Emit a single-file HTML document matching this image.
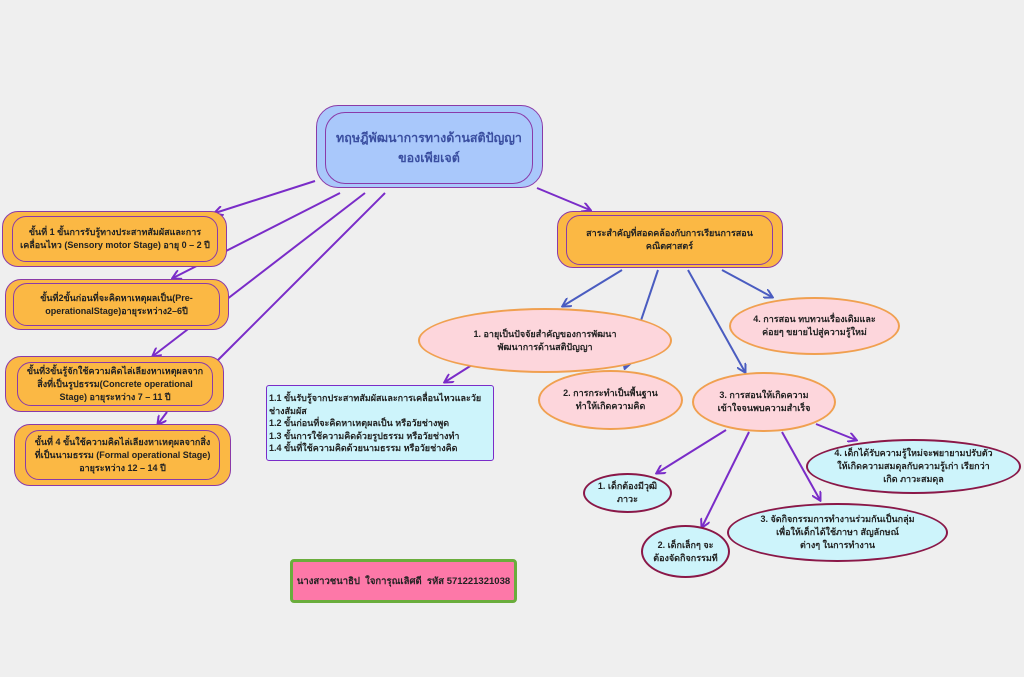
<!DOCTYPE html>
<html><head><meta charset="utf-8"><style>
body{margin:0;width:1024px;height:677px;background:#efefef;position:relative;overflow:hidden;font-family:"Liberation Sans","Noto Sans CJK SC",sans-serif;font-weight:bold}
.o{position:absolute;background:#fbb844;border:1.5px solid #8a3aa8;border-radius:16px;box-sizing:border-box}
.i{position:absolute;border:1.5px solid #8a3aa8;border-radius:14px;box-sizing:border-box;display:flex;align-items:center;justify-content:center;text-align:center;font-size:9px;line-height:13px;color:#222;padding:0 6px}
.e{position:absolute;border-radius:50%;box-sizing:border-box;display:flex;align-items:center;justify-content:center;text-align:center;font-size:9px;line-height:13px;color:#222}
.p{background:#fdd6dc;border:2px solid #f0a050}
.c{background:#cdf4fb;border:2px solid #8a1848}
svg{position:absolute;left:0;top:0}
</style></head><body>
<svg width="1024" height="677">
<defs>
<marker id="ap" markerWidth="10" markerHeight="10" refX="8" refY="5" orient="auto" markerUnits="userSpaceOnUse"><path d="M0,0 L9,5 L0,10" fill="none" stroke="#7a2cc8" stroke-width="2"/></marker>
<marker id="ab" markerWidth="10" markerHeight="10" refX="8" refY="5" orient="auto" markerUnits="userSpaceOnUse"><path d="M0,0 L9,5 L0,10" fill="none" stroke="#4a5cc0" stroke-width="2"/></marker>
</defs>
<g stroke="#7a2cc8" stroke-width="2" fill="none">
<line x1="315" y1="181" x2="215" y2="213" marker-end="url(#ap)"/>
<line x1="340" y1="193" x2="173" y2="278" marker-end="url(#ap)"/>
<line x1="365" y1="193" x2="153" y2="356" marker-end="url(#ap)"/>
<line x1="385" y1="193" x2="218" y2="360"/>
<line x1="167" y1="412" x2="158" y2="424" marker-end="url(#ap)"/>
<line x1="537" y1="188" x2="590" y2="210" marker-end="url(#ap)"/>
<line x1="475" y1="363" x2="445" y2="382" marker-end="url(#ap)"/>
<line x1="726" y1="430" x2="657" y2="473" marker-end="url(#ap)"/>
<line x1="749" y1="432" x2="702" y2="527" marker-end="url(#ap)"/>
<line x1="782" y1="432" x2="820" y2="500" marker-end="url(#ap)"/>
<line x1="816" y1="424" x2="856" y2="440" marker-end="url(#ap)"/>
</g>
<g stroke="#4a5cc0" stroke-width="2" fill="none">
<line x1="622" y1="270" x2="563" y2="306" marker-end="url(#ab)"/>
<line x1="658" y1="270" x2="625" y2="368" marker-end="url(#ab)"/>
<line x1="688" y1="270" x2="745" y2="372" marker-end="url(#ab)"/>
<line x1="722" y1="270" x2="772" y2="297" marker-end="url(#ab)"/>
</g>
</svg>

<div class="o" style="left:316px;top:105px;width:227px;height:83px;background:#a9c8fb;border-radius:22px"></div>
<div class="i" style="left:325px;top:112px;width:208px;height:72px;border-radius:20px;font-size:12.5px;line-height:20px;color:#3a4ea0;white-space:nowrap;padding:0">ทฤษฎีพัฒนาการทางด้านสติปัญญา<br>ของเพียเจต์</div>

<div class="o" style="left:2px;top:211px;width:225px;height:56px"></div>
<div class="i" style="left:12px;top:216px;width:206px;height:46px">ขั้นที่ 1 ขั้นการรับรู้ทางประสาทสัมผัสและการเคลื่อนไหว (Sensory motor Stage) อายุ 0 – 2 ปี</div>
<div class="o" style="left:5px;top:279px;width:224px;height:51px"></div>
<div class="i" style="left:13px;top:283px;width:207px;height:43px">ขั้นที่2ขั้นก่อนที่จะคิดหาเหตุผลเป็น(Pre-operationalStage)อายุระหว่าง2–6ปี</div>
<div class="o" style="left:5px;top:356px;width:219px;height:56px"></div>
<div class="i" style="left:17px;top:362px;width:196px;height:44px">ขั้นที่3ขั้นรู้จักใช้ความคิดไล่เลียงหาเหตุผลจากสิ่งที่เป็นรูปธรรม(Concrete operational Stage) อายุระหว่าง 7 – 11 ปี</div>
<div class="o" style="left:14px;top:424px;width:217px;height:62px"></div>
<div class="i" style="left:25px;top:430px;width:195px;height:50px">ขั้นที่ 4 ขั้นใช้ความคิดไล่เลียงหาเหตุผลจากสิ่งที่เป็นนามธรรม (Formal operational Stage) อายุระหว่าง 12 – 14 ปี</div>

<div class="o" style="left:557px;top:211px;width:226px;height:57px"></div>
<div class="i" style="left:566px;top:215px;width:207px;height:50px;font-size:9px">สาระสำคัญที่สอดคล้องกับการเรียนการสอนคณิตศาสตร์</div>

<div class="e p" style="left:418px;top:308px;width:254px;height:65px">1. อายุเป็นปัจจัยสำคัญของการพัฒนา<br>พัฒนาการด้านสติปัญญา</div>
<div class="e p" style="left:538px;top:370px;width:145px;height:60px">2. การกระทำเป็นพื้นฐาน<br>ทำให้เกิดความคิด</div>
<div class="e p" style="left:692px;top:372px;width:144px;height:60px">3. การสอนให้เกิดความ<br>เข้าใจจนพบความสำเร็จ</div>
<div class="e p" style="left:729px;top:297px;width:171px;height:58px">4. การสอน ทบทวนเรื่องเดิมและ<br>ค่อยๆ ขยายไปสู่ความรู้ใหม่</div>

<div style="position:absolute;left:266px;top:385px;width:228px;height:76px;box-sizing:border-box;background:#cdf4fb;border:1.5px solid #7a2cc8;border-radius:3px;font-size:9px;line-height:12.5px;color:#222;padding:6px 2px">1.1 ขั้นรับรู้จากประสาทสัมผัสและการเคลื่อนไหวและวัยช่างสัมผัส<br>1.2 ขั้นก่อนที่จะคิดหาเหตุผลเป็น หรือวัยช่างพูด<br>1.3 ขั้นการใช้ความคิดด้วยรูปธรรม หรือวัยช่างทำ<br>1.4 ขั้นที่ใช้ความคิดด้วยนามธรรม หรือวัยช่างคิด</div>

<div class="e c" style="left:583px;top:473px;width:89px;height:40px">1. เด็กต้องมีวุฒิ<br>ภาวะ</div>
<div class="e c" style="left:641px;top:525px;width:89px;height:53px">2. เด็กเล็กๆ จะ<br>ต้องจัดกิจกรรมที</div>
<div class="e c" style="left:727px;top:503px;width:221px;height:59px">3. จัดกิจกรรมการทำงานร่วมกันเป็นกลุ่ม<br>เพื่อให้เด็กได้ใช้ภาษา สัญลักษณ์<br>ต่างๆ ในการทำงาน</div>
<div class="e c" style="left:806px;top:439px;width:215px;height:55px">4. เด็กได้รับความรู้ใหม่จะพยายามปรับตัว<br>ให้เกิดความสมดุลกับความรู้เก่า เรียกว่า<br>เกิด ภาวะสมดุล</div>

<div style="position:absolute;left:290px;top:559px;width:227px;height:44px;box-sizing:border-box;background:#fd78a8;border:3px solid #6aad3c;border-radius:4px;display:flex;align-items:center;justify-content:center;font-size:9.5px;color:#222;white-space:nowrap">นางสาวชนาธิป&nbsp; ใจการุณเลิศดี&nbsp; รหัส 571221321038</div>
</body></html>
